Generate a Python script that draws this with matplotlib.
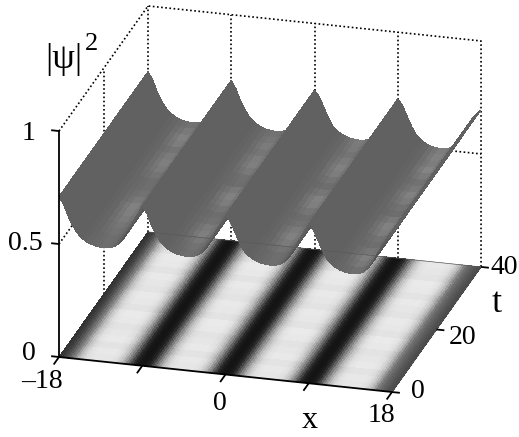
import numpy as np
import matplotlib
matplotlib.use('Agg')
import matplotlib.pyplot as plt

W, H = 519, 437

# |psi|^2 along x, read from the front and back edges of the surface
x = np.arange(-18, 18.5, 0.5)
profile = [.71, .675, .625, .585, .555, .535, .522, .513, .508, .505,
           .505, .508, .515, .53, .555, .59, .63, .67,
           .71, .675, .625, .585, .555, .535, .522, .513, .508, .505,
           .505, .508, .515, .53, .555, .59, .63, .67,
           .705, .68, .635, .59, .555, .535, .522, .513, .508, .505,
           .505, .508, .515, .53, .555, .59, .63, .67,
           .705, .68, .635, .59, .555, .535, .522, .513, .508, .505,
           .505, .51, .52, .54, .57, .61, .65, .675, .695]
t = np.arange(0, 42, 2)

# surface grey across one period (peak to peak)
surf_grey = [.38, .38, .38, .38, .38, .39, .40, .41, .42, .43, .43, .42, .39, .34, .33, .35, .37, .38]
# lighter blotches in each trough, one value per t step
mottle = [
    [0, 0, .02, .04, .06, .08, .09, .05, .02, 0, 0, .03, .06, .08, .06, .03, .07, .09, .05, .02],
    [0, .02, .05, .08, .06, .02, 0, .03, .07, .09, .05, 0, .01, .05, .08, .07, .04, .06, .04, .02],
    [0, 0, .03, .06, .09, .06, .02, 0, .04, .08, .09, .04, 0, .03, .07, .09, .06, .03, .05, .06],
    [.01, .05, .08, .04, 0, .02, .07, .09, .05, 0, .02, .06, .09, .05, .02, .06, .10, .07, .09, .07],
]
# faint variation of the floor map with t
floor_tint = [.0, .01, -.01, .012, .0, -.012, .01, .015, -.01, .005, .012, -.012, .0, .012, -.01, .01, .015, -.01, .0, .01]

# floor map grey across one period, quarter unit cells, peak to peak
x_floor = np.arange(-18, 18.25, 0.25)
floor_grey = [.08, .09, .12, .17, .27, .38, .50, .60, .70, .77, .82, .86, .88, .89, .90, .90, .90, .90,
              .90, .90, .90, .90, .89, .88, .86, .82, .77, .70, .60, .50, .38, .27, .17, .12, .09, .08]
floor_left = [.20, .22, .25, .30, .36, .43]
floor_right = [.44, .40, .37, .34, .32, .30]

ticks_x = [-18, -9, 0, 9, 18]
ticks_t = [0, 20, 40]
ticks_z = [0, 0.5, 1]

profile = np.array(profile)
X, T = np.meshgrid(x, t)
Z = np.tile(profile, (len(t), 1))

shade = np.zeros((len(t) - 1, len(x) - 1))
for i in range(len(t) - 1):
    for j in range(len(x) - 1):
        phase = j % 18
        period = j//18
        shade[i, j] = surf_grey[phase]
        if 7 <= phase <= 12:
            shade[i, j] += mottle[period][i]*(1 - abs(phase - 9.5)/3.5)
surf_colors = plt.cm.gray(shade)

row = np.tile(floor_grey, 4)
row[:6] = floor_left
row[-6:] = floor_right
XF, TF = np.meshgrid(x_floor, t)
floor_shade = np.zeros((len(t) - 1, len(x_floor) - 1))
for i in range(len(t) - 1):
    floor_shade[i] = np.clip(row + floor_tint[i]*(row > .5), 0, 1)
floor_colors = plt.cm.gray(floor_shade)

fig = plt.figure(figsize=(W/100., H/100.), dpi=100)
ax = fig.add_axes([0, 0, 1, 1], projection='3d', proj_type='ortho', computed_zorder=False)
ax.view_init(elev=22.6, azim=-74.7)
ax.set_box_aspect((345.3, 337.5, 244.8))
ax.set_xlim(-18, 18)
ax.set_ylim(0, 40)
ax.set_zlim(0, 1)
ax.set_axis_off()
ax.patch.set_alpha(0)

# dotted walls
dot = dict(color='k', ls=(0, (1, 1.5)), lw=1.2, zorder=1)
ax.plot([-18, -18, 18, 18], [0, 40, 40, 40], [1, 1, 1, 0], **dot)
ax.plot([-18, -18, 18], [0, 40, 40], [.5, .5, .5], **dot)
ax.plot([-18, -18], [20, 20], [0, 1], **dot)
for xv in ticks_x[:-1]:
    ax.plot([xv, xv], [40, 40], [0, 1], **dot)

ax.plot_surface(XF, TF, np.zeros_like(XF), facecolors=floor_colors, rstride=1, cstride=1,
                shade=False, linewidth=0, antialiased=False, zorder=2)
ax.plot_surface(X, T, Z, facecolors=surf_colors, rstride=1, cstride=1,
                shade=False, linewidth=0, antialiased=False, zorder=3)

# solid axes and ticks
ln = dict(color='k', lw=1.3, zorder=4, solid_capstyle='butt')
ax.plot([-18, -18], [0, 0], [0, 1], **ln)
ax.plot([-18, 18], [0, 0], [0, 0], **ln)
ax.plot([18, 18], [0, 40], [0, 0], color='0.3', lw=0.7, zorder=4)
ax.plot([-18, 18], [40, 40], [0, 0], color='0.35', lw=0.5, zorder=4)
for zv in ticks_z:
    ax.plot([-18, -18.85], [0, 0], [zv, zv], **ln)
for xv in ticks_x:
    ax.plot([xv, xv], [0, -2.4], [0, 0], **ln)
for tv in ticks_t:
    ax.plot([18, 18.85], [tv, tv], [0, 0], **ln)


# move the axes so that the box corners land where they are in the picture
def corners_px():
    from mpl_toolkits.mplot3d import proj3d
    fig.canvas.draw()
    out = []
    for p in [(-18, 0, 0), (18, 0, 0)]:
        a, b, _ = proj3d.proj_transform(p[0], p[1], p[2], ax.get_proj())
        out.append(ax.transData.transform((a, b)))
    return out


side = 1.0
a, b = corners_px()
side = side*333./(b[0] - a[0])
pos_w = side*H/float(W)
ax.set_position([0.5 - pos_w/2, 0.5 - side/2, pos_w, side])
a, b = corners_px()
dx = 59 - a[0]
dy = (H - 357) - a[1]
ax.set_position([0.5 - pos_w/2 + dx/W, 0.5 - side/2 + dy/H, pos_w, side])

# labels
font = dict(family=['Liberation Serif', 'DejaVu Serif'], color='k', ha='center', va='center')


def label(px, py, s, size=20, **kw):
    fig.text(px/float(W), 1 - py/float(H), s, fontsize=size, **font, **kw)


label(29, 133, '1')
label(25, 244, '0.5')
label(29, 354, '0')
label(42, 382, '\u201318')
label(220, 403, '0')
label(381, 415, '18')
label(418, 392, '0')
label(463, 337, '20')
label(504, 268, '40')
label(310, 421, 'x', size=23)
label(497, 304, 't', size=26)
label(64, 59, '|\u03c8|', size=26)
label(92, 44, '2', size=19)

fig.savefig('out.png', dpi=100)
